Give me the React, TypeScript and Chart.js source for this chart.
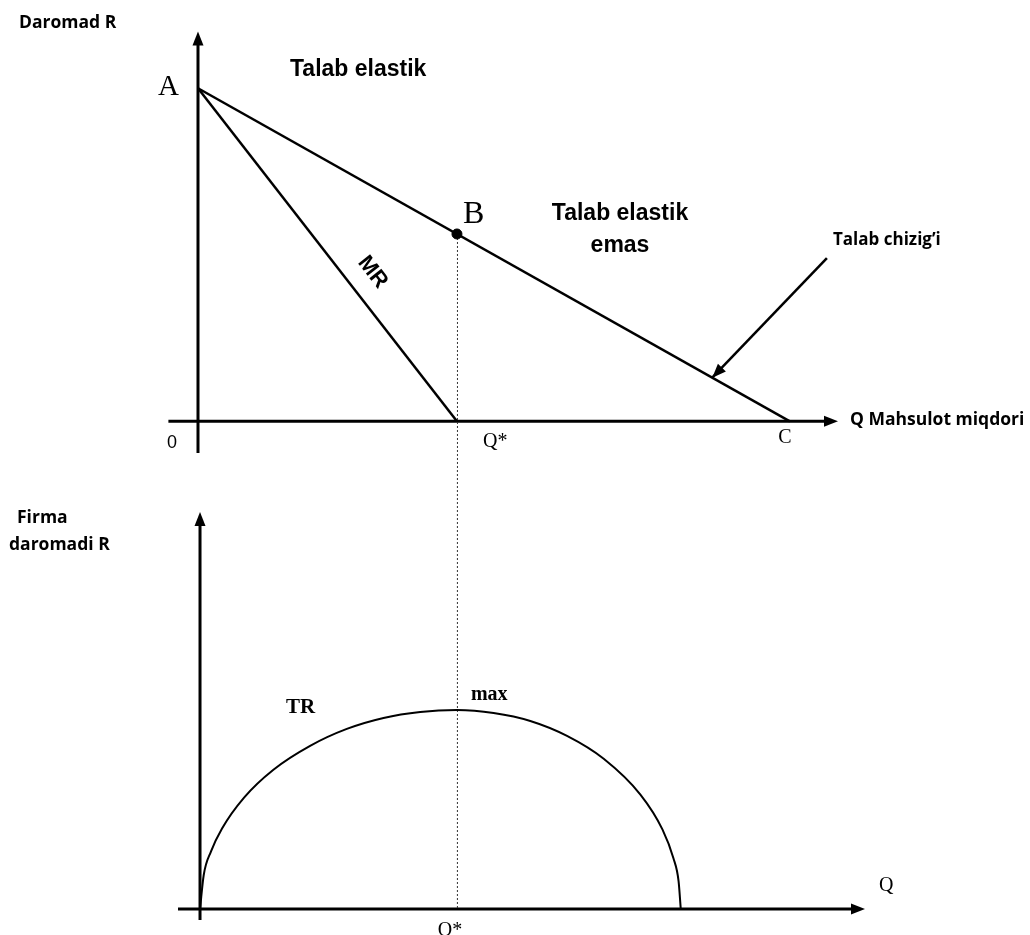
import React, { useEffect, useRef } from "react";
import { Chart, registerables } from "chart.js";
Chart.register(...registerables);

// ---- Data (economic units) ----
const demandQ = [0, 8];
const demandR = [10, 0];
const mrQ = [0, 3.5];
const mrR = [10, 0];
const pointBQ = [3.5];
const pointBR = [5.625];
const pointerQ = [8.5, 6.95];
const pointerR = [4.9, 1.31];
const trQ = [0, 0.05, 0.15, 0.3, 0.6, 1.0, 1.5, 2.0, 2.5, 3.0, 3.5, 4.0, 4.5, 5.0, 5.5, 6.0, 6.3, 6.45, 6.52, 6.55];
const trR = [0, 3.4, 5.8, 8.1, 11.2, 14.0, 16.4, 18.1, 19.2, 19.8, 20, 19.7, 18.9, 17.4, 15.1, 11.5, 8.0, 5.1, 2.8, 0];
const topQRange = [-0.4, 8.65];
const topRRange = [-0.95, 11.7];
const bottomQRange = [-0.3, 9.06];
const bottomRRange = [-1.1, 39.9];

const W = 1030;
const TOP_H = 470;
const BOT_H = 465;

const SERIF = '"Liberation Serif", "DejaVu Serif", serif';
const SANS = '"Liberation Sans", Arial, sans-serif';
const NARROW = '"Liberation Sans Narrow", "Liberation Sans", Arial, sans-serif';
const CAL = '"Open Sans", "Noto Sans", sans-serif';

const zip = (xs: number[], ys: number[]) => xs.map((v, i) => ({ x: v, y: ys[i] }));

function arrowHead(ctx: CanvasRenderingContext2D, tx: number, ty: number, fx: number, fy: number, len = 14, half = 5.5) {
  const ang = Math.atan2(ty - fy, tx - fx);
  ctx.save();
  ctx.translate(tx, ty);
  ctx.rotate(ang);
  ctx.beginPath();
  ctx.moveTo(0, 0);
  ctx.lineTo(-len, -half);
  ctx.lineTo(-len, half);
  ctx.closePath();
  ctx.fillStyle = "#000";
  ctx.fill();
  ctx.restore();
}

function seg(ctx: CanvasRenderingContext2D, x1: number, y1: number, x2: number, y2: number) {
  ctx.beginPath();
  ctx.moveTo(x1, y1);
  ctx.lineTo(x2, y2);
  ctx.stroke();
}

function txt(ctx: CanvasRenderingContext2D, s: string, x: number, y: number, font: string, align: CanvasTextAlign = "left") {
  ctx.font = font;
  ctx.textAlign = align;
  ctx.textBaseline = "alphabetic";
  ctx.fillStyle = "#000";
  ctx.fillText(s, x, y);
}

function drawAxes(chart: any) {
  const { ctx, chartArea: a, scales } = chart;
  const x0 = scales.x.getPixelForValue(0);
  const y0 = scales.y.getPixelForValue(0);
  ctx.save();
  ctx.strokeStyle = "#000";
  ctx.lineWidth = 3;
  seg(ctx, a.left, y0, a.right - 10, y0);
  arrowHead(ctx, a.right, y0, a.left, y0);
  seg(ctx, x0, a.bottom, x0, a.top + 10);
  arrowHead(ctx, x0, a.top, x0, a.bottom);
  ctx.restore();
}

const topDecor = {
  id: "topDecor",
  beforeDatasetsDraw(chart: any) {
    const { ctx, scales } = chart;
    drawAxes(chart);
    const bx = scales.x.getPixelForValue(pointBQ[0]);
    const by = scales.y.getPixelForValue(pointBR[0]);
    ctx.save();
    ctx.strokeStyle = "#333";
    ctx.lineWidth = 1;
    ctx.setLineDash([2, 2]);
    seg(ctx, bx + 0.5, by, bx + 0.5, chart.height);
    ctx.restore();
  },
  afterDraw(chart: any) {
    const { ctx, scales } = chart;
    const ax = scales.x.getPixelForValue(demandQ[0]);
    const ay = scales.y.getPixelForValue(demandR[0]);
    const bx = scales.x.getPixelForValue(pointBQ[0]);
    const by = scales.y.getPixelForValue(pointBR[0]);
    const cx = scales.x.getPixelForValue(demandQ[1]);
    const y0 = scales.y.getPixelForValue(0);
    const x0 = scales.x.getPixelForValue(0);
    const p1x = scales.x.getPixelForValue(pointerQ[0]);
    const p1y = scales.y.getPixelForValue(pointerR[0]);
    const p2x = scales.x.getPixelForValue(pointerQ[1]);
    const p2y = scales.y.getPixelForValue(pointerR[1]);
    arrowHead(ctx, p2x, p2y, p1x, p1y, 14, 5.5);

    ctx.save();
    txt(ctx, "Daromad R", 19, 28, `bold 17.5px ${CAL}`);
    txt(ctx, "A", ax - 40, ay + 7, `29px ${SERIF}`);
    txt(ctx, "Talab elastik", 290, 76, `bold 23px ${NARROW}`);
    txt(ctx, "B", bx + 6, by - 11, `32px ${SERIF}`);
    txt(ctx, "Talab elastik", 620, 220, `bold 23px ${NARROW}`, "center");
    txt(ctx, "emas", 620, 252, `bold 23px ${NARROW}`, "center");
    txt(ctx, "Talab chizig\u2019i", 833, 245, `bold 17px ${CAL}`);
    txt(ctx, "0", x0 - 31, y0 + 27, `18px ${NARROW}`);
    txt(ctx, "Q*", bx + 26, y0 + 26, `20px ${SERIF}`);
    txt(ctx, "C", cx - 5, y0 + 22, `20px ${SERIF}`, "center");
    txt(ctx, "Q Mahsulot miqdori", 850, y0 + 4, `bold 17.5px ${CAL}`);
    ctx.translate(374, 271);
    ctx.rotate(Math.atan2(332, 259));
    txt(ctx, "MR", 0, 8, `bold 22px ${SANS}`, "center");
    ctx.restore();
  },
};

const bottomDecor = {
  id: "bottomDecor",
  beforeDatasetsDraw(chart: any) {
    const { ctx, scales } = chart;
    drawAxes(chart);
    const qx = scales.x.getPixelForValue(pointBQ[0]);
    const y0 = scales.y.getPixelForValue(0);
    ctx.save();
    ctx.strokeStyle = "#333";
    ctx.lineWidth = 1;
    ctx.setLineDash([2, 2]);
    seg(ctx, qx + 0.5, 0, qx + 0.5, y0);
    ctx.restore();
  },
  afterDraw(chart: any) {
    const { ctx, scales } = chart;
    const qx = scales.x.getPixelForValue(pointBQ[0]);
    const y0 = scales.y.getPixelForValue(0);
    ctx.save();
    txt(ctx, "Firma", 17, 53, `bold 17.5px ${CAL}`);
    txt(ctx, "daromadi R", 9, 80, `bold 17.5px ${CAL}`);
    txt(ctx, "TR", 286, 243, `bold 21px ${SERIF}`);
    txt(ctx, "max", qx + 14, 230, `bold 20px ${SERIF}`);
    txt(ctx, "Q", 879, y0 - 18, `20px ${SERIF}`);
    txt(ctx, "Q*", qx - 7, y0 + 27, `20px ${SERIF}`, "center");
    ctx.restore();
  },
};

function baseOptions(qr: number[], rr: number[], pad: any) {
  return {
    responsive: false,
    animation: false as const,
    devicePixelRatio: 1,
    layout: { padding: pad },
    plugins: { legend: { display: false }, tooltip: { enabled: false } },
    events: [],
    scales: {
      x: { type: "linear" as const, display: false, min: qr[0], max: qr[1] },
      y: { type: "linear" as const, display: false, min: rr[0], max: rr[1] },
    },
  };
}

export default function App() {
  const topRef = useRef<HTMLCanvasElement>(null);
  const botRef = useRef<HTMLCanvasElement>(null);

  useEffect(() => {
    const top = new Chart(topRef.current!, {
      type: "scatter",
      data: {
        datasets: [
          { data: zip(demandQ, demandR), showLine: true, borderColor: "#000", borderWidth: 2.5, pointRadius: 0, clip: false },
          { data: zip(mrQ, mrR), showLine: true, borderColor: "#000", borderWidth: 2.5, pointRadius: 0, clip: false },
          { data: zip(pointerQ, pointerR), showLine: true, borderColor: "#000", borderWidth: 2.5, pointRadius: 0, clip: false },
          { data: zip(pointBQ, pointBR), showLine: false, pointRadius: 5, backgroundColor: "#000", borderColor: "#000", clip: false },
        ],
      },
      options: baseOptions(topQRange, topRRange, { left: 168.4, right: W - 838, top: 31.6, bottom: TOP_H - 453 }) as any,
      plugins: [topDecor],
    });
    const bot = new Chart(botRef.current!, {
      type: "scatter",
      data: {
        datasets: [
          {
            data: zip(trQ, trR),
            showLine: true,
            borderColor: "#000",
            borderWidth: 2,
            pointRadius: 0,
            cubicInterpolationMode: "monotone",
            clip: false,
          },
        ],
      },
      options: baseOptions(bottomQRange, bottomRRange, { left: 178, right: W - 865, top: 42, bottom: BOT_H - 450 }) as any,
      plugins: [bottomDecor],
    });
    return () => {
      top.destroy();
      bot.destroy();
    };
  }, []);

  return (
    <div style={{ position: "absolute", left: 0, top: 0, width: W, height: TOP_H + BOT_H, background: "#fff" }}>
      <canvas ref={topRef} width={W} height={TOP_H} style={{ position: "absolute", left: 0, top: 0 }} />
      <canvas ref={botRef} width={W} height={BOT_H} style={{ position: "absolute", left: 0, top: TOP_H }} />
    </div>
  );
}
